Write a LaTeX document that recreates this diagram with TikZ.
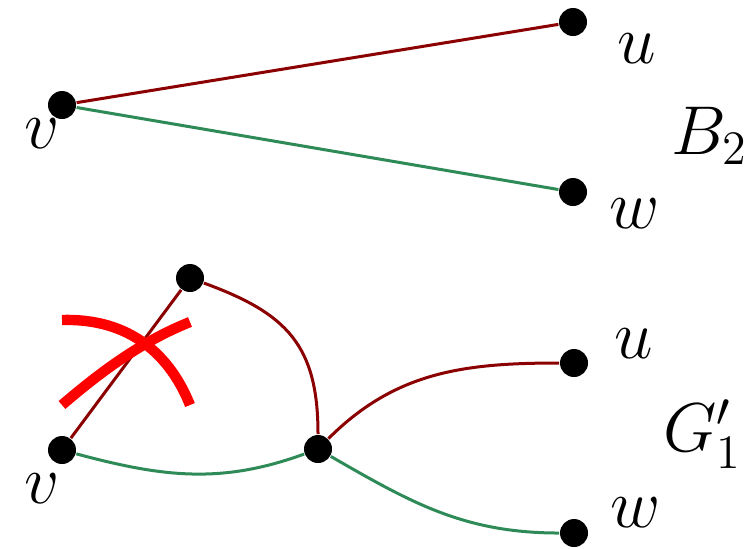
\documentclass[tikz,border=0pt]{standalone}
\begin{document}
\begin{tikzpicture}[x=0.25pt,y=-0.25pt,
  dot/.style={circle,fill=black,inner sep=0pt,minimum size=7pt},
  lbl/.style={inner sep=0pt,font=\fontsize{18}{21}\selectfont},
  redge/.style={draw={rgb,255:red,139;green,0;blue,0},line width=0.75pt},
  gedge/.style={draw={rgb,255:red,46;green,139;blue,87},line width=0.75pt},
  cross/.style={draw=red,line width=2.6pt}]
\useasboundingbox (0,0) rectangle (746,548);
% top graph B_2
\node[dot] (tv) at (62,105) {};
\node[dot] (tu) at (573,22) {};
\node[dot] (tw) at (573,192) {};
\node[lbl] (ltv) at (42,134) {$v$};
\node[lbl] (ltu) at (637,49) {$u$};
\node[lbl] (ltw) at (635,214) {$w$};
\node[lbl] (lB) at (710,136) {$B_2$};
\draw[redge] (tv) -- (tu);
\draw[gedge] (tv) -- (tw);
% bottom graph G'_1
\node[dot] (bt) at (190,278) {};
\node[dot] (bv) at (62,450) {};
\node[dot] (bm) at (318,449) {};
\node[dot] (bu) at (574,363) {};
\node[dot] (bw) at (574,533) {};
\node[lbl] (lbv) at (42,489) {$v$};
\node[lbl] (lbu) at (634,344) {$u$};
\node[lbl] (lbw) at (636,513) {$w$};
\node[lbl] (lG) at (703,434) {$G'_1$};
\draw[redge] (bt) -- (bv);
\draw[redge] (bt) to[out=-20,in=90,looseness=1.2] (bm);
\draw[redge] (bm) to[out=45,in=180] (bu);
\draw[gedge] (bv) to[out=-15,in=200] (bm);
\draw[gedge] (bm) to[out=-30,in=180] (bw);
% red cross
\coordinate (c1a) at (62,320);
\coordinate (c1b) at (190,405);
\coordinate (c2a) at (62,405);
\coordinate (c2b) at (190,322);
\draw[cross] (c1a) .. controls (130,318) and (170,355) .. (c1b);
\draw[cross] (c2a) .. controls (105,368) and (145,340) .. (c2b);
\end{tikzpicture}
\end{document}
